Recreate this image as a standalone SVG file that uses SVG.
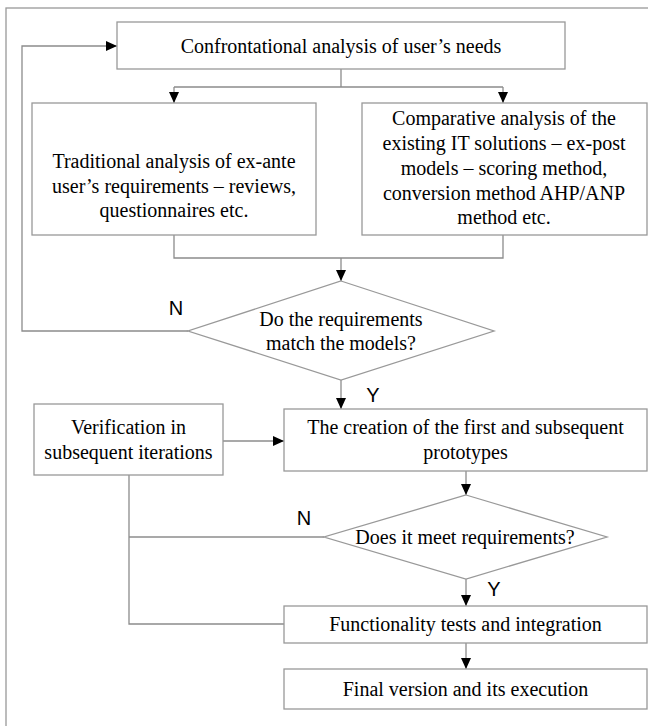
<svg xmlns="http://www.w3.org/2000/svg" width="648" height="726" viewBox="0 0 648 726">
<defs>
<marker id="ah" markerUnits="userSpaceOnUse" markerWidth="12" markerHeight="10" refX="11" refY="5" orient="auto">
<path d="M0,0 L11,5 L0,10 Z" fill="#000"/>
</marker>
<style>
.box{fill:#fff;stroke:#999;stroke-width:1.3}
.ln{fill:none;stroke:#8c8c8c;stroke-width:1.3}
.t{font-family:"Liberation Serif","Times New Roman",serif;font-size:20px;fill:#000;text-anchor:middle}
.lb{font-family:"Liberation Sans",Arial,sans-serif;font-size:20px;fill:#000;text-anchor:middle}
</style>
</defs>
<rect x="0" y="0" width="648" height="726" fill="#fff"/>
<rect x="6" y="8" width="660" height="740" fill="none" stroke="#999" stroke-width="1.3"/>
<g id="connectors">
<path class="ln" d="M341,69 V87 M174,87 H503" />
<path class="ln" d="M174,87 V103" marker-end="url(#ah)"/>
<path class="ln" d="M503,87 V103" marker-end="url(#ah)"/>
<path class="ln" d="M174,235 V258 H503 V235"/>
<path class="ln" d="M341,258 V281" marker-end="url(#ah)"/>
<path class="ln" d="M188,331 H22 V46 H117" marker-end="url(#ah)"/>
<path class="ln" d="M341,380 V409" marker-end="url(#ah)"/>
<path class="ln" d="M223,441 H284" marker-end="url(#ah)"/>
<path class="ln" d="M466,471 V495" marker-end="url(#ah)"/>
<path class="ln" d="M324,537 H129"/>
<path class="ln" d="M129,475 V624 H284"/>
<path class="ln" d="M466,579 V606" marker-end="url(#ah)"/>
<path class="ln" d="M466,643 V669" marker-end="url(#ah)"/>
<text class="lb" x="176" y="315">N</text>
<text class="lb" x="373" y="402">Y</text>
<text class="lb" x="304" y="525">N</text>
<text class="lb" x="494" y="596">Y</text>
</g>
<g id="n1">
<rect class="box" x="117" y="22" width="448" height="47"/>
<text class="t" x="341" y="53">Confrontational analysis of user’s needs</text>
</g>
<g id="n2">
<rect class="box" x="32" y="103" width="284" height="132"/>
<text class="t" x="174" y="168">Traditional analysis of ex-ante</text>
<text class="t" x="174" y="193">user’s requirements – reviews,</text>
<text class="t" x="174" y="217">questionnaires etc.</text>
</g>
<g id="n3">
<rect class="box" x="362" y="103" width="285" height="132"/>
<text class="t" x="504" y="125">Comparative analysis of the</text>
<text class="t" x="504" y="150">existing IT solutions – ex-post</text>
<text class="t" x="504" y="175">models – scoring method,</text>
<text class="t" x="504" y="200">conversion method AHP/ANP</text>
<text class="t" x="504" y="224">method etc.</text>
</g>
<g id="d1">
<polygon class="box" points="341,281 494,331 341,380 188,331"/>
<text class="t" x="341" y="326">Do the requirements</text>
<text class="t" x="341" y="350">match the models?</text>
</g>
<g id="n4">
<rect class="box" x="34" y="404" width="189" height="71"/>
<text class="t" x="128.5" y="434">Verification in</text>
<text class="t" x="128.5" y="459">subsequent iterations</text>
</g>
<g id="n5">
<rect class="box" x="284" y="409" width="363" height="62"/>
<text class="t" x="465.5" y="434">The creation of the first and subsequent</text>
<text class="t" x="465.5" y="459">prototypes</text>
</g>
<g id="d2">
<polygon class="box" points="466,495 607,537 466,579 324,537"/>
<text class="t" x="465" y="544">Does it meet requirements?</text>
</g>
<g id="n6">
<rect class="box" x="284" y="606" width="363" height="37"/>
<text class="t" x="465.5" y="631">Functionality tests and integration</text>
</g>
<g id="n7">
<rect class="box" x="284" y="669" width="363" height="40"/>
<text class="t" x="465.5" y="696">Final version and its execution</text>
</g>
</svg>
